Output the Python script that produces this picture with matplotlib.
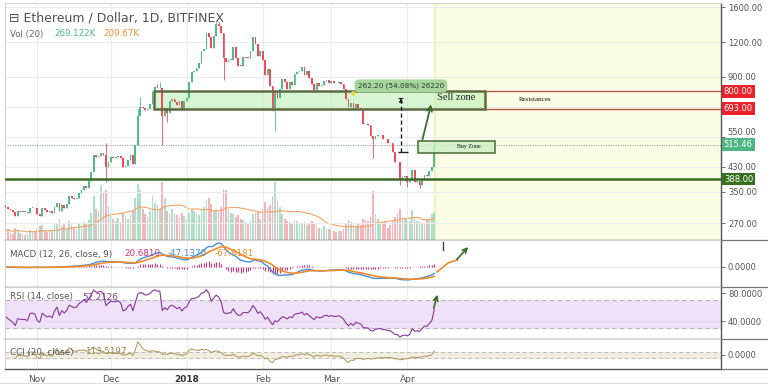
import numpy as np
import pandas as pd
import matplotlib
matplotlib.use("Agg")
import matplotlib.pyplot as plt
from matplotlib.patches import Rectangle
from matplotlib.lines import Line2D

# daily candles ETH/USD, Oct 19 2017 .. Apr 12 2018 (index 0 = Oct 19)
closes = [
    309, 304, 300, 295, 286, 298, 297, 296, 296, 294, 306, 307, 305,
    291, 287, 305, 300, 296, 298, 294, 309, 320, 299, 314, 307, 316, 337, 333,
    330, 332, 347, 354, 367, 360, 381, 410, 474, 466, 471, 480, 472, 427, 447,
    466, 463, 465, 470, 463, 428, 434, 456, 473, 441, 515, 651, 702, 696, 684,
    694, 719, 794, 827, 819, 822, 650, 697, 670, 736, 753, 735, 713, 736, 693, 741,
    756, 862, 941, 944, 967, 1006, 1118, 1136, 1289, 1248, 1139, 1261, 1396, 1366,
    1292, 1054, 1015, 1036, 1039, 1155, 1050, 988, 987, 1058, 1056, 1053, 1111,
    1247, 1182, 1073, 1118,
    1036, 915, 964, 834, 697, 793, 757, 818, 883, 860, 815, 866, 842, 924, 937,
    944, 974, 914, 944, 895, 850, 807, 859, 836, 841, 867, 878, 856,
    872, 856, 855, 864, 849, 815, 751, 700, 727, 686, 721, 698, 690, 613, 611,
    608, 553, 539, 555, 557, 560, 540, 539, 523, 522, 487, 448, 446, 385, 394, 397,
    379, 386, 417, 380, 383, 370, 385, 400, 398, 414, 430, 515.46,
]
first_open = 314

# volume in thousands
volumes = [
    90, 110, 70, 60, 120, 100, 70, 60, 50, 55, 100, 80, 75,
    110, 130, 140, 90, 80, 100, 90, 150, 160, 200, 130, 150, 110, 180, 140,
    120, 100, 150, 130, 170, 160, 190, 260, 420, 300, 280, 530, 450, 480, 330,
    250, 200, 180, 210, 170, 260, 230, 200, 250, 280, 400, 540, 480, 300, 250,
    220, 280, 420, 360, 340, 300, 560, 400, 280, 260, 300, 250, 240, 220, 260, 230,
    200, 260, 300, 280, 250, 240, 300, 320, 380, 400, 350, 280, 300, 270, 320,
    490, 480, 300, 260, 250, 220, 240, 200, 190, 170, 160, 180, 250, 260, 280, 200,
    300, 370, 310, 340, 420, 560, 380, 320, 250, 200, 180, 170, 160, 190, 180,
    150, 160, 170, 140, 150, 180, 160, 140, 120, 110, 130, 120, 110,
    100, 90, 80, 85, 90, 110, 150, 190, 170, 140, 130, 150, 140, 200, 190,
    180, 220, 470, 250, 200, 160, 150, 180, 120, 140, 180, 220, 250, 300, 220, 210,
    200, 180, 290, 220, 180, 170, 150, 160, 200, 190, 250, 269.122,
]

# long wicks that stand out (bar index -> price)
wick_high = {41: 522, 54: 690, 55: 760, 60: 800, 62: 850, 63: 860,
             86: 1420, 87: 1410, 175: 530}
wick_low = {41: 380, 55: 650, 64: 515, 66: 620, 89: 880, 110: 575,
            109: 680, 150: 460, 161: 370, 164: 365, 169: 360}

month_idx = [13, 43, 74, 105, 133, 164]
month_labels = ["Nov", "Dec", "2018", "Feb", "Mar", "Apr"]
price_ticks = [270, 350, 430, 550, 700, 900, 1200, 1600]
price_tick_labels = ["270.00", "350.00", "430.00", "", "", "900.00", "1200.00", "1600.00"]

support = 388.0
res_low, res_high = 693.0, 800.0
last_price = 515.46
buy_low, buy_high = 482.0, 533.0
measure_from, measure_to = 484.8, 747.0

UP = "#53b987"
DN = "#eb4d5c"
GRID = "#ececec"

c = np.array(closes, float)
o = np.r_[first_open, c[:-1]]
up = c >= o
hi = np.maximum(o, c)
lo = np.minimum(o, c)
for k, v in wick_high.items():
    hi[k] = max(hi[k], v)
for k, v in wick_low.items():
    lo[k] = min(lo[k], v)
idx = np.arange(len(c))
vol = np.array(volumes, float)
vol_ma = pd.Series(vol).rolling(20, min_periods=1).mean()

# -------- indicators --------
s = pd.Series(c)
macd = s.ewm(span=12, adjust=False).mean() - s.ewm(span=26, adjust=False).mean()
signal = macd.ewm(span=9, adjust=False).mean()
hist = macd - signal

# Wilder RSI, seeded neutral since the history before Oct 19 is not on the chart
d = np.diff(c, prepend=first_open)
seed = np.abs(d[:14]).mean() / 2
ag, al = seed, seed
rsi = []
for x in d:
    ag = (ag * 13 + max(x, 0)) / 14
    al = (al * 13 + max(-x, 0)) / 14
    rsi.append(100 - 100 / (1 + ag / al))
rsi = np.array(rsi)

sma = s.rolling(20, min_periods=5).mean()
md = s.rolling(20, min_periods=5).apply(lambda x: np.abs(x - x.mean()).mean(), raw=True)
cci = (s - sma) / (0.015 * md)

W, H = 768, 388
fig = plt.figure(figsize=(W / 100, H / 100), dpi=100)
fig.patch.set_facecolor("white")

def rect(top, bottom):
    return [5 / W, 1 - bottom / H, 716 / W, (bottom - top) / H]

XL = (-0.2, -0.2 + 716 / 2.45)

ax_v = fig.add_axes(rect(3, 240))
ax = fig.add_axes(rect(3, 240))
ax_m = fig.add_axes(rect(240, 287))
ax_r = fig.add_axes(rect(287, 339))
ax_c = fig.add_axes(rect(339, 369))

for a in (ax_v, ax, ax_m, ax_r, ax_c):
    a.set_xlim(*XL)
    a.set_xticks([])
    for sp in a.spines.values():
        sp.set_color("#d4d4d4")
        sp.set_linewidth(0.8)
for a in (ax, ax_m, ax_r, ax_c):
    a.spines["right"].set_color("#555555")
    a.spines["bottom"].set_color("#555555")
    a.spines["right"].set_linewidth(1.0)
    a.spines["bottom"].set_linewidth(1.0)
    for mi in month_idx:
        a.axvline(mi, color=GRID, lw=0.8, zorder=0)

# -------- volume (bottom layer) --------
ax_v.set_ylim(0, 2280)
ax_v.set_yticks([])
ax_v.axvspan(175.5, XL[1], color="#fbfde4", zorder=0)
ax_v.axvline(175.5, color="#eef2a8", lw=1.2, zorder=0)
ax_v.bar(idx, vol, width=0.7, color=np.where(up, "#b0dfc8", "#f5b3ba"), zorder=1)
ax_v.plot(idx, vol_ma, color="#f2a36a", lw=0.8, zorder=2)
for sp in ax_v.spines.values():
    sp.set_visible(False)

# -------- price --------
ax.patch.set_visible(False)
ax.set_yscale("log")
ax.set_ylim(235, 1655)
ax.yaxis.tick_right()
ax.set_yticks(price_ticks)
ax.set_yticklabels(price_tick_labels)
ax.minorticks_off()
ax.tick_params(axis="y", labelsize=6, colors="#555555", length=3, width=0.6, pad=2)
for t in price_ticks:
    ax.axhline(t, color=GRID, lw=0.8, zorder=0)
# 550 label sits just above the last-price tag, as it is pushed there in the source
ax.text(1.0095, 571, "550.00", transform=ax.get_yaxis_transform(), fontsize=6,
        color="#555555", ha="left", va="center", clip_on=False)

ax.add_patch(Rectangle((60.6, res_low), 195.7 - 60.6, res_high - res_low,
                       fc="#b8f0b0", alpha=0.55, ec="none", zorder=1))
ax.add_patch(Rectangle((60.6, res_low), 195.7 - 60.6, res_high - res_low,
                       fc="none", ec="#5e6a44", lw=1.8, zorder=4))
ax.hlines([res_high, res_low], 195.7, XL[1], color="#b9584c", lw=1.0, zorder=2)
ax.axhline(support, color="#3b6b24", lw=1.8, zorder=4)
ax.axhline(last_price, color="#6e9c8a", lw=0.7, ls=(0, (1, 1.5)), zorder=2)

col = np.where(up, UP, DN)
ax.vlines(idx, lo, hi, colors=col, lw=0.6, zorder=3)
ax.bar(idx, np.maximum(np.abs(c - o), c * 0.004), bottom=np.minimum(o, c),
       width=0.72, color=col, zorder=3)

# buy zone
ax.add_patch(Rectangle((168.4, buy_low), 199.8 - 168.4, buy_high - buy_low,
                       fc="#cdeec3", alpha=0.8, ec="#4d6b3a", lw=1.4, zorder=4))
ax.text(189.2, 506, "Buy Zone", fontsize=4.2, family="Liberation Serif",
        ha="center", va="center", color="#111111", zorder=5)
ax.text(176.1, 757, "Sell zone", fontsize=7.5, family="Liberation Serif",
        ha="left", va="center", color="#222222", zorder=5)
ax.text(216.1, 750, "Resistances", fontsize=5, family="Liberation Serif",
        ha="center", va="center", color="#111111", zorder=5)
ax.annotate("", xy=(174.0, 734), xytext=(169.9, 525),
            arrowprops=dict(arrowstyle="->", color="#3c6a2a", lw=1.3, mutation_scale=9),
            zorder=6)

# measure
ax.vlines(161.4, measure_from, measure_to, color="#222222", lw=1.0, ls=(0, (3, 2)), zorder=5)
ax.hlines(measure_from, 160.2, 164.3, color="#222222", lw=1.0, zorder=5)
ax.annotate("", xy=(161.4, measure_to * 1.01), xytext=(161.4, measure_to * 0.97),
            arrowprops=dict(arrowstyle="-|>", color="#222222", lw=0.8, mutation_scale=5), zorder=5)
ax.hlines(measure_to * 1.012, 160.4, 162.4, color="#222222", lw=0.8, zorder=5)
ax.text(161.4, 836, "262.20 (54.08%) 26220", fontsize=5.2, ha="center", va="center",
        color="#2b3a2b", zorder=6,
        bbox=dict(boxstyle="round,pad=0.45,rounding_size=0.6", fc="#a6d59e", ec="none"))
ax.plot([141.7], [790], "o", ms=2.5, color="#e8d84a", zorder=6)

# right side price labels
for val, fc in [(res_high, "#e8232a"), (res_low, "#e8232a"),
                (last_price, "#50b584"), (support, "#36701f")]:
    ax.text(1.004, val, f"{val:.2f}", transform=ax.get_yaxis_transform(),
            fontsize=6, color="white", ha="left", va="center", clip_on=False, zorder=10,
            bbox=dict(boxstyle="square,pad=0.22", fc=fc, ec="none"))

# -------- MACD --------
k = macd.max() / 24.0
ax_m.set_ylim(-20 * k, 27 * k)
ax_m.axhline(0, color=GRID, lw=0.8, zorder=0)
ax_m.vlines(idx, 0, hist, color="#d2357c", lw=0.8)
ax_m.plot(idx, macd, color="#4a8fd8", lw=1.0)
ax_m.plot(idx, signal, color="#f08a2c", lw=1.2)
ax_m.yaxis.tick_right()
ax_m.set_yticks([0])
ax_m.set_yticklabels(["0.0000"])
ax_m.tick_params(axis="y", labelsize=6, colors="#555555", length=3, width=0.6, pad=2)

def fx(px):
    return (px - 5) / 716

ax_m.plot([fx(437), fx(448), fx(457)], [(287 - 272) / 47, (287 - 263) / 47, (287 - 260) / 47],
          color="#f08a2c", lw=1.2, transform=ax_m.transAxes, clip_on=False)
ax_m.annotate("", xy=(fx(470), (287 - 245) / 47), xytext=(fx(455), (287 - 261.5) / 47),
              xycoords=ax_m.transAxes, textcoords=ax_m.transAxes,
              arrowprops=dict(arrowstyle="->", color="#3c6a2a", lw=1.2, mutation_scale=8))
ax_m.plot([fx(442.7), fx(442.7)], [(287 - 242) / 47, (287 - 250) / 47], color="#444444",
          lw=1.0, transform=ax_m.transAxes)

# -------- RSI --------
ax_r.set_ylim(14.3, 88.6)
ax_r.axhspan(30, 70, color="#efe1f7", zorder=0)
ax_r.axhline(70, color="#b8b8b8", lw=0.8, ls=(0, (4, 3)))
ax_r.axhline(30, color="#b8b8b8", lw=0.8, ls=(0, (4, 3)))
ax_r.axhline(40, color="#e4d6ee", lw=0.6)
ax_r.plot(idx, rsi, color="#82399a", lw=0.8)
ax_r.yaxis.tick_right()
ax_r.set_yticks([40, 80])
ax_r.set_yticklabels(["40.0000", "80.0000"])
ax_r.tick_params(axis="y", labelsize=6, colors="#555555", length=3, width=0.6, pad=2)
ax_r.annotate("", xy=(fx(438), (339 - 292) / 52), xytext=(fx(433), (339 - 311) / 52),
              xycoords=ax_r.transAxes, textcoords=ax_r.transAxes,
              arrowprops=dict(arrowstyle="->", color="#3c6a2a", lw=1.2, mutation_scale=8))

# -------- CCI --------
ax_c.set_ylim(-500, 571)
ax_c.axhspan(-100, 100, color="#f1eee0", zorder=0)
ax_c.axhline(100, color="#bdbdbd", lw=0.7, ls=(0, (4, 3)))
ax_c.axhline(-100, color="#bdbdbd", lw=0.7, ls=(0, (4, 3)))
ax_c.plot(idx, cci, color="#a89258", lw=0.7)
ax_c.yaxis.tick_right()
ax_c.set_yticks([0])
ax_c.set_yticklabels(["0.0000"])
ax_c.tick_params(axis="y", labelsize=6, colors="#555555", length=3, width=0.6, pad=2)
ax_c.set_xticks(month_idx)
ax_c.set_xticklabels(month_labels)
ax_c.tick_params(axis="x", labelsize=6.5, colors="#555555", length=0, pad=4)
ax_c.get_xticklabels()[2].set_fontweight("bold")
ax_c.get_xticklabels()[2].set_color("#333333")

# -------- legends --------
def ftext(px, py, s, **kw):
    fig.text(px / W, 1 - py / H, s, va="center", ha="left", **kw)

ftext(9, 18, "\u229f Ethereum / Dollar, 1D, BITFINEX", fontsize=9.0, color="#505050")
ftext(10, 34, "Vol (20)", fontsize=6.2, color="#666666")
ftext(54, 34, "269.122K", fontsize=6.3, color="#53b987")
ftext(103, 34, "209.67K", fontsize=6.3, color="#f0903c")
ftext(10, 254, "MACD (12, 26, close, 9)", fontsize=6.3, color="#555555")
ftext(124, 254, "20.6810", fontsize=6.3, color="#d2357c")
ftext(168, 254, "-47.1370", fontsize=6.3, color="#4a8fd8")
ftext(215, 254, "-67.8181", fontsize=6.3, color="#f08a2c")
ftext(10, 297, "RSI (14, close)", fontsize=6.3, color="#555555")
ftext(82, 297, "52.2126", fontsize=6.3, color="#82399a")
ftext(10, 352, "CCI (20, close)", fontsize=6.3, color="#555555")
ftext(85, 352, "113.5197", fontsize=6.3, color="#9a8444")

# frame lines in the price-scale column and outer border
for py in (240, 287, 339, 369):
    fig.add_artist(Line2D([721 / W, 1], [1 - py / H] * 2, color="#777777", lw=0.9))
fig.add_artist(Line2D([0, 1], [1 - 383 / H] * 2, color="#dddddd", lw=0.8))

fig.savefig("out.png", dpi=100)
